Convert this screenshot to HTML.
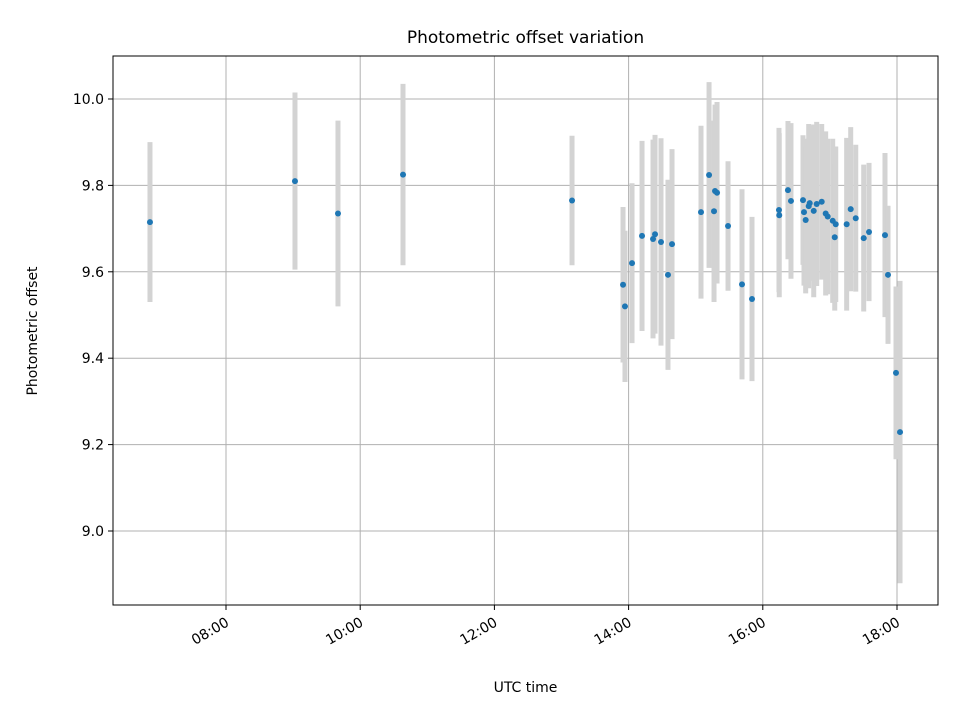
<!DOCTYPE html>
<html><head><meta charset="utf-8"><style>
body{margin:0;background:#fff}
svg text{font-family:"DejaVu Sans","Liberation Sans",sans-serif;fill:#000}
</style></head><body>
<svg id="chart" width="960" height="720" xmlns="http://www.w3.org/2000/svg">
<rect width="960" height="720" fill="#fff"/>
<g id="grid"></g><g id="bars"></g><g id="pts"></g><g id="axes"></g>
</svg>
<script>
const hours=[6.867,9.028,9.669,10.638,13.157,13.917,13.946,14.051,14.2,14.364,14.394,14.483,14.587,14.647,15.079,15.199,15.273,15.288,15.318,15.482,15.69,15.839,16.241,16.245,16.375,16.42,16.599,16.614,16.639,16.684,16.699,16.759,16.803,16.878,16.937,16.967,17.042,17.072,17.087,17.25,17.31,17.385,17.504,17.583,17.821,17.866,17.985,18.045];
const offsets=[9.715,9.81,9.735,9.825,9.765,9.57,9.52,9.62,9.683,9.676,9.687,9.669,9.593,9.664,9.738,9.824,9.74,9.787,9.783,9.706,9.571,9.537,9.743,9.731,9.789,9.764,9.766,9.738,9.72,9.752,9.759,9.741,9.757,9.762,9.735,9.728,9.718,9.68,9.71,9.71,9.745,9.724,9.678,9.692,9.685,9.593,9.366,9.229];
const errors=[0.185,0.205,0.215,0.21,0.15,0.18,0.175,0.185,0.22,0.23,0.23,0.24,0.22,0.22,0.2,0.215,0.21,0.2,0.21,0.15,0.22,0.19,0.19,0.19,0.16,0.18,0.15,0.17,0.17,0.19,0.18,0.2,0.19,0.18,0.19,0.18,0.19,0.17,0.18,0.2,0.19,0.17,0.17,0.16,0.19,0.16,0.2,0.35];
const xTickHours=[8,10,12,14,16,18];
const xTickLabels=["08:00","10:00","12:00","14:00","16:00","18:00"];
const yTicks=[9.0,9.2,9.4,9.6,9.8,10.0];
const yTickLabels=["9.0","9.2","9.4","9.6","9.8","10.0"];

const L=113,R=938,T=56,B=605;
const xmin=6.316,xmax=18.611,ymin=8.8287,ymax=10.0995;
const X=h=>L+(h-xmin)/(xmax-xmin)*(R-L);
const Y=v=>B-(v-ymin)/(ymax-ymin)*(B-T);
const NS="http://www.w3.org/2000/svg";
function mk(tag,parent,attrs){const e=document.createElementNS(NS,tag);for(const k in attrs)e.setAttribute(k,attrs[k]);document.getElementById(parent).appendChild(e);return e;}

xTickHours.forEach((h,i)=>{
  const x=X(h);
  const g=mk('line','grid',{x1:x,x2:x,y1:T,y2:B,stroke:'#b0b0b0','stroke-width':1});
  
  
  const t=mk('line','axes',{x1:x,x2:x,y1:B,y2:B+5,stroke:'#000','stroke-width':1});
  
  
  const tx=mk('text','axes',{x:x+4,y:B+20,'text-anchor':'end','font-size':14,transform:`rotate(-30 ${x+4} ${B+20})`});
  tx.textContent=xTickLabels[i];
  
  
});
yTicks.forEach((v,i)=>{
  const y=Y(v);
  const g=mk('line','grid',{x1:L,x2:R,y1:y,y2:y,stroke:'#b0b0b0','stroke-width':1});
  
  
  const t=mk('line','axes',{x1:L-5,x2:L,y1:y,y2:y,stroke:'#000','stroke-width':1});
  
  
  const tx=mk('text','axes',{x:L-9,y:y+5,'text-anchor':'end','font-size':14});
  tx.textContent=yTickLabels[i];
  
  
});
hours.forEach((h,i)=>{
  const x=X(h);
  const b=mk('line','bars',{x1:x,x2:x,y1:Y(offsets[i]+errors[i]),y2:Y(offsets[i]-errors[i]),stroke:'#d3d3d3','stroke-width':5});
  
  
  const c=mk('circle','pts',{cx:x,cy:Y(offsets[i]),r:3,fill:'#1f77b4'});
  
  
});
const f=mk('rect','axes',{x:L,y:T,width:R-L,height:B-T,fill:'none',stroke:'#000','stroke-width':1});


const ti=mk('text','axes',{x:(L+R)/2,y:43,'text-anchor':'middle','font-size':17});
ti.textContent='Photometric offset variation';


const xl=mk('text','axes',{x:(L+R)/2,y:692,'text-anchor':'middle','font-size':14});
xl.textContent='UTC time';


const yl=mk('text','axes',{x:37,y:331,'text-anchor':'middle','font-size':14,transform:'rotate(-90 37 331)'});
yl.textContent='Photometric offset';


</script>
</body></html>
